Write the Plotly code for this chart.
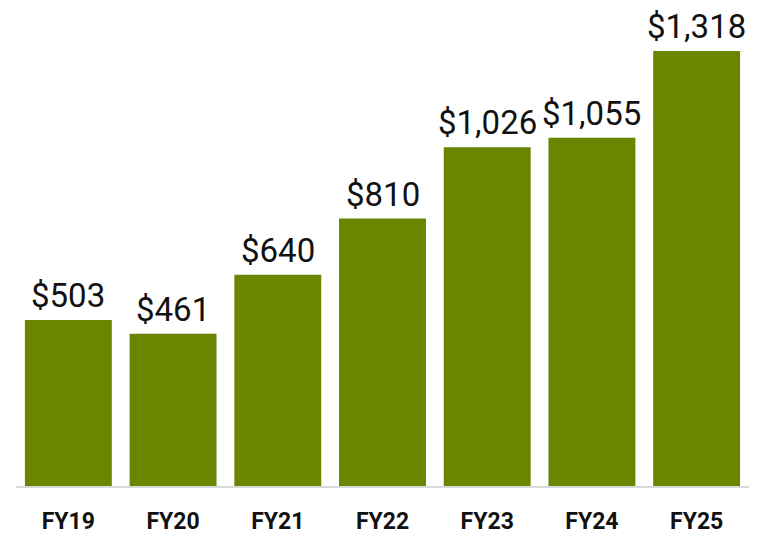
import plotly.graph_objects as go

categories = ["FY19", "FY20", "FY21", "FY22", "FY23", "FY24", "FY25"]
values = [503, 461, 640, 810, 1026, 1055, 1318]
labels = ["$503", "$461", "$640", "$810", "$1,026", "$1,055", "$1,318"]

bar_color = "#6A8500"

fig = go.Figure(go.Bar(
    x=categories, y=values,
    marker=dict(color=bar_color, line=dict(width=0)),
    hoverinfo="skip",
))

for c, v, t in zip(categories, values, labels):
    fig.add_annotation(x=c, y=v, text=t, showarrow=False, yanchor="bottom",
                       yshift=4, borderpad=0,
                       font=dict(family="Roboto", size=33, color="#111111"))

fig.update_layout(
    width=768, height=528,
    margin=dict(l=8, r=27, t=0, b=50),
    plot_bgcolor="white", paper_bgcolor="white",
    bargap=0.17,
    showlegend=False,
    xaxis=dict(showline=True, linecolor="#D9D9D9", linewidth=2, showgrid=False,
               ticks="", ticklabelstandoff=13,
               tickfont=dict(family="Roboto", size=23, color="#111111", weight="bold")),
    yaxis=dict(visible=False, range=[0, 1448], showgrid=False, zeroline=False),
)

fig.write_html("out.html")
